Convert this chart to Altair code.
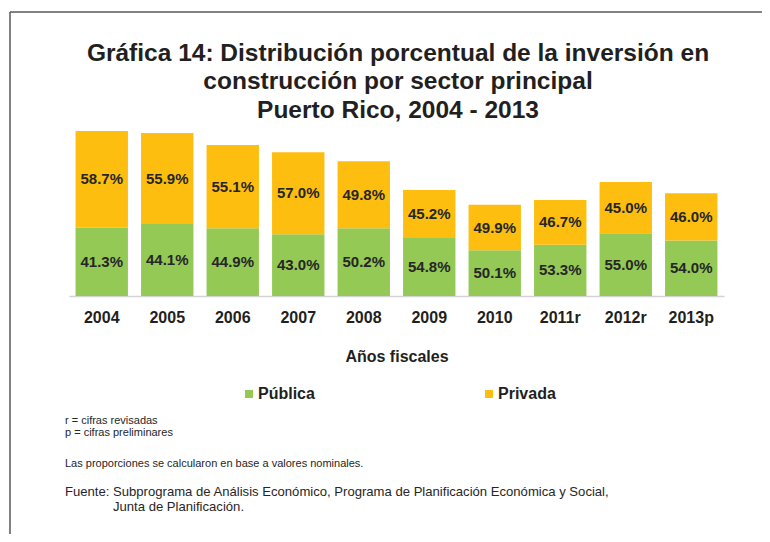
import altair as alt
import pandas as pd

# ---- data ----
years = ["2004", "2005", "2006", "2007", "2008", "2009", "2010", "2011r", "2012r", "2013p"]
# total construction investment (relative bar heights, estimated, millions $)
totals = [6600, 6520, 6040, 5750, 5390, 4240, 3650, 3840, 4560, 4110]
publica_pct = [41.3, 44.1, 44.9, 43.0, 50.2, 54.8, 50.1, 53.3, 55.0, 54.0]
privada_pct = [58.7, 55.9, 55.1, 57.0, 49.8, 45.2, 49.9, 46.7, 45.0, 46.0]
sectors = ["Pública", "Privada"]
colors = ["#94C955", "#FDBE10"]

title_lines = [
    "Gráfica 14: Distribución porcentual de la inversión en",
    "construcción por sector principal",
    "Puerto Rico, 2004 - 2013",
]
x_title = "Años fiscales"
notes = [
    "r = cifras revisadas",
    "p = cifras preliminares",
    "Las proporciones se calcularon en base a valores nominales.",
    "Fuente: Subprograma de Análisis Económico, Programa de Planificación Económica y Social,",
    "Junta de Planificación.",
]

# ---- build table ----
rows = []
for y, t, pu, pr in zip(years, totals, publica_pct, privada_pct):
    v_pu = t * pu / 100.0
    v_pr = t * pr / 100.0
    rows.append(dict(year=y, sector="Pública", pct=pu, start=0.0, end=v_pu,
                     mid=v_pu / 2.0, label=f"{pu:.1f}%"))
    rows.append(dict(year=y, sector="Privada", pct=pr, start=v_pu, end=v_pu + v_pr,
                     mid=v_pu + v_pr / 2.0, label=f"{pr:.1f}%"))
df = pd.DataFrame(rows)

FONT = "Liberation Sans"
DARK = "#231f20"

xenc = alt.X("year:N", sort=years,
             scale=alt.Scale(paddingInner=0.2, paddingOuter=0.1),
             axis=alt.Axis(title=x_title, labelAngle=0, ticks=False,
                           domainColor="#d4d4d4", domainWidth=1.5,
                           labelFont=FONT, labelFontSize=16, labelFontWeight="bold",
                           labelColor=DARK, labelPadding=13,
                           titleFont=FONT, titleFontSize=16, titleFontWeight="bold",
                           titleColor=DARK, titlePadding=23))
yscale = alt.Scale(domain=[0, max(totals)], nice=False, zero=True)

bars = alt.Chart(df).mark_bar().encode(
    x=xenc,
    y=alt.Y("start:Q", scale=yscale, axis=None),
    y2="end:Q",
    color=alt.Color("sector:N", scale=alt.Scale(domain=sectors, range=colors),
                    legend=alt.Legend(title=None, orient="none", legendX=172, legendY=255,
                                      direction="horizontal", symbolType="square",
                                      symbolSize=64, symbolStrokeWidth=0,
                                      labelFont=FONT, labelFontSize=16,
                                      labelFontWeight="bold", labelColor=DARK,
                                      labelOffset=1, columnPadding=166, padding=0)),
)

labels = alt.Chart(df).mark_text(font=FONT, fontSize=15, fontWeight="bold",
                                 color="#262626", baseline="middle").encode(
    x=alt.X("year:N", sort=years),
    y=alt.Y("mid:Q", scale=yscale),
    text="label:N",
)

# title lines (centred above the plot)
title_layers = []
for txt, ty in zip(title_lines, [-70.5, -42, -13.5]):
    title_layers.append(
        alt.Chart().mark_text(text=txt, font=FONT, fontSize=24.5, fontWeight="bold",
                              color=DARK, align="center", baseline="alphabetic")
        .encode(x=alt.value(329), y=alt.value(ty))
    )

# frame (top and left edges of the reference's box)
frame_top = alt.Chart().mark_rule(color="#595959", strokeWidth=1.5).encode(
    x=alt.value(-59), x2=alt.value(693), y=alt.value(-119))
frame_left = alt.Chart().mark_rule(color="#595959", strokeWidth=1.5).encode(
    x=alt.value(-59), y=alt.value(-119), y2=alt.value(403))

note_layers = []
note_pos = [(-4, 289.7, 11), (-4, 301.7, 11), (-4, 333, 11),
            (-4, 361, 13.1), (44, 376, 13.1)]
for txt, (nx, ny, fs) in zip(notes, note_pos):
    note_layers.append(
        alt.Chart().mark_text(text=txt, font=FONT, fontSize=fs, color="#262626",
                              align="left", baseline="middle")
        .encode(x=alt.value(nx), y=alt.value(ny))
    )

chart = alt.layer(bars, labels, frame_top, frame_left, *title_layers, *note_layers).properties(
    width=655, height=165,
    autosize=alt.AutoSizeParams(type="none"),
    padding={"left": 61, "top": 123, "right": 38, "bottom": 238},
    background="white",
).configure_view(stroke=None)

chart.save("out.html", embed_options={"renderer": "svg", "actions": False})
